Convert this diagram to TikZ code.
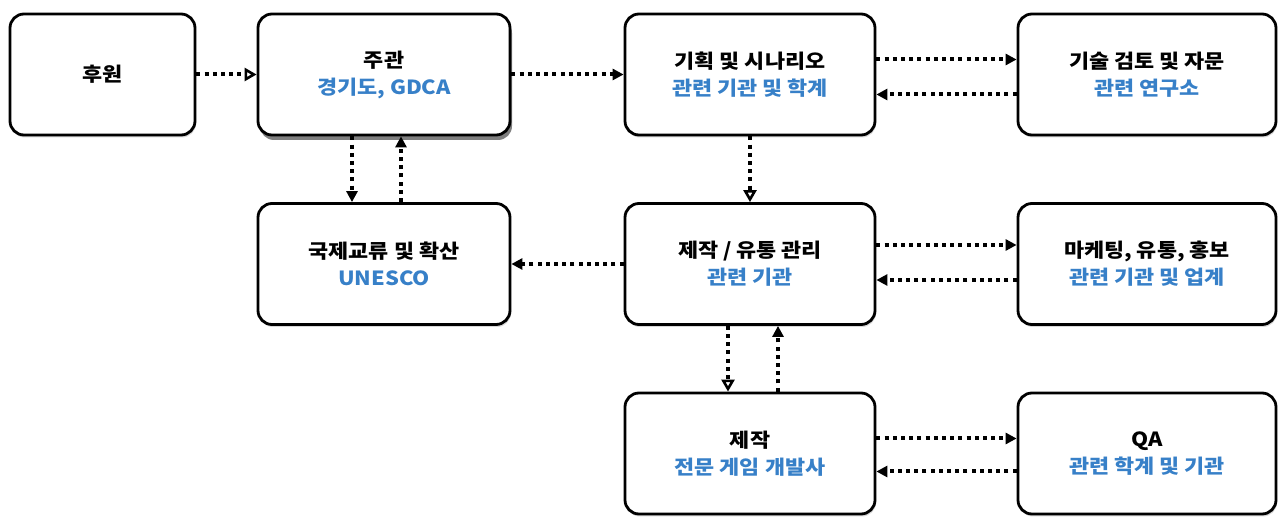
\documentclass[tikz,border=0pt]{standalone}
\usepackage{fontspec}
\newfontfamily\krfont[FakeStretch=1.12]{Noto Sans CJK KR}
\usetikzlibrary{positioning,arrows.meta,shadows}
\definecolor{subblue}{RGB}{55,128,200}

\begin{document}
\begin{tikzpicture}[x=1pt,y=1pt,node distance=189.5pt,on grid,
	box/.style={draw,line width=2.8pt,rounded corners=14pt,fill=white,minimum width=250pt,minimum height=121pt,align=center,font=\krfont\bfseries\fontsize{19.5}{27}\selectfont},
	soft/.style={drop shadow={shadow xshift=1pt,shadow yshift=-2.5pt,fill=black!30}},
	hard/.style={drop shadow={shadow xshift=2pt,shadow yshift=-5pt,fill=black}},
	flow/.style={line width=4pt,dash pattern=on 4pt off 4.2pt,-{Triangle[length=11pt,width=11pt]}},
	oflow/.style={flow,-{Triangle[open,length=12pt,width=13pt,line width=2.6pt]}}]
			\useasboundingbox (0,0) rectangle (1286,-518);
			\node[box,soft,minimum width=185pt](sponsor) at (102.5,-74.5) {후원};
			\node[box,hard,minimum width=252pt](host)[right=281.5pt of sponsor] {주관\\\textcolor{subblue}{경기도, GDCA}};
			\node[box,soft](plan)[right=366pt of host] {기획 및 시나리오\\\textcolor{subblue}{관련 기관 및 학계}};
			\node[box,soft,minimum width=258pt](tech)[right=397pt of plan] {기술 검토 및 자문\\\textcolor{subblue}{관련 연구소}};
			\node[box,soft,minimum width=252pt](intl)[below=of host] {국제교류 및 확산\\\textcolor{subblue}{UNESCO}};
			\node[box,soft](manage)[below=of plan] {제작 / 유통 관리\\\textcolor{subblue}{관련 기관}};
			\node[box,soft,minimum width=258pt](mkt)[below=of tech] {마케팅, 유통, 홍보\\\textcolor{subblue}{관련 기관 및 업계}};
			\node[box,soft](dev)[below=of manage] {제작\\\textcolor{subblue}{전문 게임 개발사}};
			\node[box,soft,minimum width=258pt](qa)[below=of mkt] {QA\\\textcolor{subblue}{관련 학계 및 기관}};
			% top row
			\draw[oflow] (sponsor) -- (host);
			\draw[flow] (host) -- (plan);
			\draw[flow] ([yshift=15pt]plan.east) -- ([yshift=15pt]tech.west);
			\draw[flow] ([yshift=-20pt]tech.west) -- ([yshift=-20pt]plan.east);
			% vertical links
			\draw[flow] ([xshift=-32pt]host.south) -- ([xshift=-32pt]intl.north);
			\draw[flow] ([xshift=17pt]intl.north) -- ([xshift=17pt]host.south);
			\draw[oflow] (plan) -- (manage);
			\draw[oflow] ([xshift=-22pt]manage.south) -- ([xshift=-22pt]dev.north);
			\draw[flow] ([xshift=28pt]dev.north) -- ([xshift=28pt]manage.south);
			% middle and bottom rows
			\draw[flow] (manage) -- (intl);
			\draw[flow] ([yshift=19pt]manage.east) -- ([yshift=19pt]mkt.west);
			\draw[flow] ([yshift=-16pt]mkt.west) -- ([yshift=-16pt]manage.east);
			\draw[flow] ([yshift=15pt]dev.east) -- ([yshift=15pt]qa.west);
			\draw[flow] ([yshift=-18pt]qa.west) -- ([yshift=-18pt]dev.east);
\end{tikzpicture}
\end{document}
